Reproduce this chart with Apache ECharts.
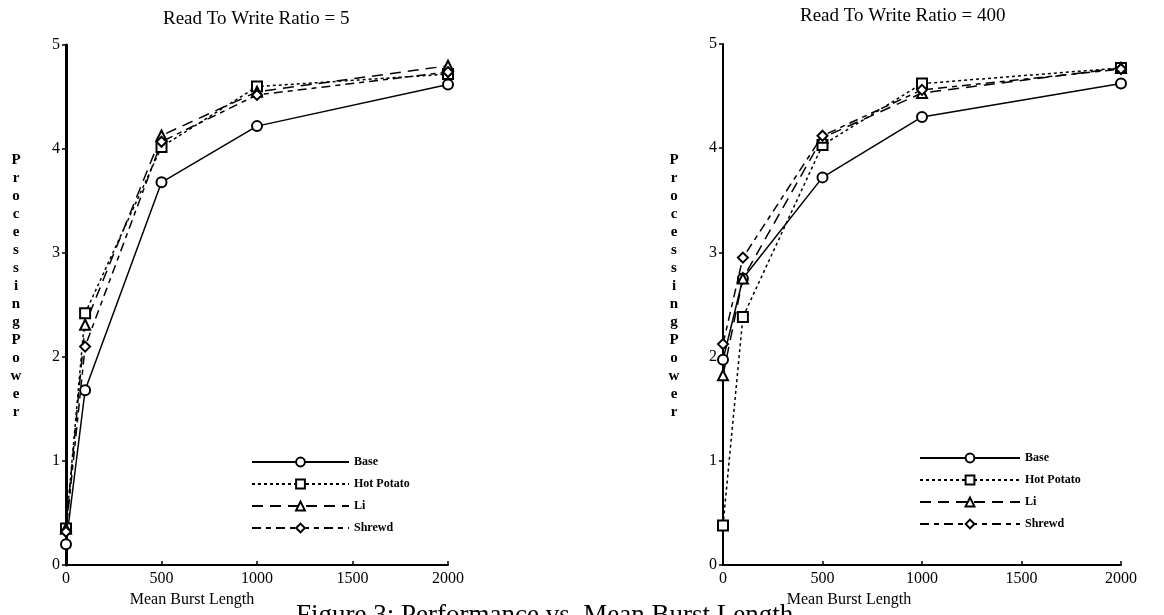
<!DOCTYPE html>
<html>
<head>
<meta charset="utf-8">
<script src="https://cdn.jsdelivr.net/npm/echarts@6/dist/echarts.min.js"></script>
<style>
html,body{margin:0;padding:0;background:#fff;}
#c{width:1164px;height:615px;}
</style>
</head>
<body>
<div id="c"></div>
<script>
// ---- data ----
const burstLengths = [0, 100, 500, 1000, 2000];
const seriesNames = ['Base', 'Hot Potato', 'Li', 'Shrewd'];
const chartTitles = ['Read To Write Ratio = 5', 'Read To Write Ratio = 400'];
const xTickLabels = ['0', '500', '1000', '1500', '2000'];
const yTickLabels = ['0', '1', '2', '3', '4', '5'];
const xAxisTitle = 'Mean Burst Length';
const yAxisTitle = 'Processing Power';
const captionText = 'Figure 3: Performance vs. Mean Burst Length';

// Ratio = 5
const ratio5Base      = [0.20, 1.68, 3.68, 4.22, 4.62];
const ratio5HotPotato = [0.35, 2.42, 4.02, 4.60, 4.72];
const ratio5Li        = [0.35, 2.31, 4.13, 4.55, 4.80];
const ratio5Shrewd    = [0.32, 2.10, 4.07, 4.52, 4.74];
// Ratio = 400
const ratio400Base      = [1.97, 2.75, 3.72, 4.30, 4.62];
const ratio400HotPotato = [0.38, 2.38, 4.03, 4.62, 4.77];
const ratio400Li        = [1.82, 2.75, 4.10, 4.53, 4.77];
const ratio400Shrewd    = [2.12, 2.95, 4.12, 4.56, 4.76];

// ---- styles ----
const FONT = '"Liberation Serif", "DejaVu Serif", serif';
const styleByName = {
  'Base':       { symbol: 'emptyCircle',   type: 'solid' },
  'Hot Potato': { symbol: 'emptyRect',     type: [3, 3] },
  'Li':         { symbol: 'emptyTriangle', type: [11, 7] },
  'Shrewd':     { symbol: 'emptyDiamond',  type: [9, 5, 5, 5] }
};

function pairs(vals) { return burstLengths.map((x, i) => [x, vals[i]]); }

function makeSeries(name, vals, idx) {
  const s = styleByName[name];
  return {
    name: name, type: 'line', xAxisIndex: idx, yAxisIndex: idx,
    data: pairs(vals), symbol: s.symbol, symbolSize: 10,
    lineStyle: { color: '#000', width: 1.5, type: s.type },
    itemStyle: { color: '#000', borderColor: '#000', borderWidth: 1.5 },
    animation: false
  };
}

const verticalName = yAxisTitle.replace(' ', '').split('').join('\n');

function xAxisCfg(idx, shift) {
  return {
    type: 'value', gridIndex: idx, min: 0, max: 2000, interval: 500,
    name: xAxisTitle, nameLocation: 'middle', nameGap: 8,
    nameTextStyle: { fontFamily: FONT, fontSize: 16, color: '#000', padding: [0, shift, 0, 0] },
    axisLine: { show: true, lineStyle: { color: '#000', width: 2 } },
    axisTick: { show: true, inside: true, length: 4, lineStyle: { color: '#000', width: 1.5 } },
    axisLabel: { fontFamily: FONT, fontSize: 16, color: '#000', margin: 6,
                 formatter: v => xTickLabels[Math.round(v / 500)] },
    splitLine: { show: false }
  };
}
function yAxisCfg(idx, width) {
  return {
    type: 'value', gridIndex: idx, min: 0, max: 5, interval: 1,
    axisLine: { show: true, lineStyle: { color: '#000', width: width } },
    axisTick: { show: true, inside: false, length: 4, lineStyle: { color: '#000', width: 1.5 } },
    axisLabel: { fontFamily: FONT, fontSize: 16, color: '#000', margin: 6,
                 formatter: v => yTickLabels[Math.round(v)] },
    splitLine: { show: false }
  };
}

function legendCfg(left, top, w) {
  return {
    data: seriesNames, orient: 'vertical', left: left, top: top,
    itemWidth: w, itemHeight: 11, itemGap: 10,
    textStyle: { fontFamily: FONT, fontSize: 12, fontWeight: 'bold', color: '#000' },
    selectedMode: false
  };
}

function yNameText(x) {
  return { type: 'text', x: x, y: 151, silent: true,
    style: { text: verticalName, font: 'bold 15px ' + FONT, fill: '#000',
             align: 'center', verticalAlign: 'top', lineHeight: 18 } };
}

const chart = echarts.init(document.getElementById('c'), null, { renderer: 'canvas' });
chart.setOption({
  backgroundColor: '#fff',
  animation: false,
  title: [
    { text: chartTitles[0], left: 158, top: 5, textStyle: { fontFamily: FONT, fontSize: 19, fontWeight: 'normal', color: '#000' } },
    { text: chartTitles[1], left: 795, top: 2, textStyle: { fontFamily: FONT, fontSize: 19, fontWeight: 'normal', color: '#000' } }
  ],
  grid: [
    { left: 66, right: 716, top: 45, bottom: 50, outerBoundsMode: 'none', containLabel: false },
    { left: 723, right: 43, top: 44, bottom: 50, outerBoundsMode: 'none', containLabel: false }
  ],
  xAxis: [xAxisCfg(0, 130), xAxisCfg(1, 146)],
  yAxis: [yAxisCfg(0, 3), yAxisCfg(1, 2)],
  legend: [legendCfg(246, 451, 97), legendCfg(914, 447, 100)],
  series: [
    makeSeries('Base', ratio5Base, 0),
    makeSeries('Hot Potato', ratio5HotPotato, 0),
    makeSeries('Li', ratio5Li, 0),
    makeSeries('Shrewd', ratio5Shrewd, 0),
    makeSeries('Base', ratio400Base, 1),
    makeSeries('Hot Potato', ratio400HotPotato, 1),
    makeSeries('Li', ratio400Li, 1),
    makeSeries('Shrewd', ratio400Shrewd, 1)
  ],
  graphic: [
    yNameText(16),
    yNameText(674),
    { type: 'text', left: 296, top: 602, silent: true,
      style: { text: captionText, font: '27px ' + FONT, fill: '#000' } }
  ]
});
</script>
</body>
</html>
